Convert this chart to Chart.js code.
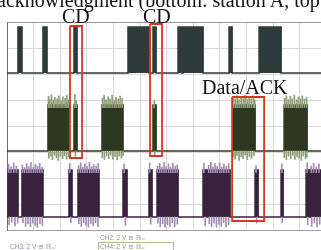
<!DOCTYPE html>
<html><head><meta charset="utf-8">
<script src="https://cdn.jsdelivr.net/npm/chart.js@4.4.1/dist/chart.umd.min.js"></script>
<style>
html,body{margin:0;padding:0;background:#fff;overflow:hidden;width:321px;height:250px}
#wrap{position:absolute;left:0;top:0;width:321px;height:250px}
.lbl{position:absolute;font-family:"Liberation Serif","Times New Roman",serif;color:#111;white-space:nowrap;line-height:1;font-size:20px;z-index:2}
.ch{position:absolute;font-family:"Liberation Sans",Arial,sans-serif;font-size:6.5px;white-space:nowrap;line-height:1;z-index:2}
#ch4box{position:absolute;left:98px;top:242px;width:76px;height:14px;border:1px solid #a9c08c;box-sizing:border-box;z-index:1}
</style></head><body>
<div id="wrap"><canvas id="c" width="321" height="250"></canvas></div>
<div class="lbl" style="left:-3px;top:-10px">acknowledgment (bottom: station A, top</div>
<div class="lbl" style="left:62px;top:6px">CD</div>
<div class="lbl" style="left:143px;top:6px">CD</div>
<div class="lbl" style="left:202px;top:76.5px">Data/ACK</div>
<div class="ch" style="left:100px;top:235px;color:#8a9a84">CH2: 2 V ≅ ℝᵤ</div>
<div id="ch4box"></div>
<div class="ch" style="left:100px;top:244px;color:#8a9a84">CH4: 2 V ≅ ℝᵤ</div>
<div class="ch" style="left:10px;top:244px;color:#8494aa">CH3: 2 V ≅ ℝᵤ</div>
<script>
// time axis in divisions, vertical axis in divisions
const xDivisions = [0,1,2,3,4,5,6,7,8,9,10,11];
const yDivisions = [0,1,2,3,4,5,6,7,8];
const X_MIN = 0, X_MAX = 11.8, Y_MIN = 0, Y_MAX = 8;

// channel 1 (top): [start, end] of each burst
const ch1Pulses = [[0.414,0.564],[1.353,1.504],[2.519,2.632],[4.549,5.338],[5.489,5.602],[6.429,6.560],[6.617,7.368],[8.346,8.459],[9.474,10.301]];
const ch1Base = 6.058, ch1High = 7.827;

// channel 2 (middle)
const ch2Pulses = [[1.541,2.331],[2.519,2.632],[3.571,4.361],[5.489,5.602],[8.496,9.323],[10.414,11.278]];
const ch2Base = 3.058, ch2High = 4.827;
const ch2SpikesUp = [[1.56,5.16],[1.61,5.04],[1.67,5.22],[1.74,5.02],[1.80,5.12],[1.88,5.06],[1.95,5.18],[2.03,5.00],[2.10,5.14],[2.18,5.08],[2.25,5.20],[2.30,5.03],
  [2.55,5.23],[2.60,5.00],
  [3.59,5.10],[3.65,5.20],[3.72,5.03],[3.80,5.15],[3.87,5.06],[3.95,5.21],[4.03,5.02],[4.10,5.12],[4.18,5.05],[4.25,5.17],[4.33,5.08],
  [5.53,5.00],
  [8.51,5.12],[8.58,5.05],[8.65,5.19],[8.72,5.03],[8.80,5.14],[8.88,5.07],[8.95,5.20],[9.03,5.04],[9.10,5.13],[9.18,5.06],[9.26,5.18],[9.31,5.02],
  [10.43,5.08],[10.50,5.19],[10.57,5.04],[10.65,5.16],[10.72,5.06],[10.80,5.21],[10.88,5.03],[10.95,5.14],[11.03,5.07],[11.10,5.18],[11.18,5.05],[11.26,5.12]];
const ch2SpikesDown = [[1.57,2.78],[1.64,2.86],[1.71,2.72],[1.79,2.90],[1.86,2.80],[1.93,2.70],[2.01,2.85],[2.09,2.76],[2.16,2.88],[2.24,2.74],[2.32,2.82],
  [2.57,2.86],
  [3.58,2.80],[3.66,2.72],[3.74,2.87],[3.82,2.76],[3.90,2.90],[3.98,2.74],[4.06,2.84],[4.14,2.71],[4.22,2.86],[4.30,2.78],[4.36,2.88],
  [5.55,2.90],
  [8.50,2.82],[8.57,2.74],[8.64,2.88],[8.72,2.70],[8.80,2.84],[8.87,2.76],[8.95,2.90],[9.03,2.73],[9.11,2.85],[9.19,2.77],[9.28,2.88],
  [10.42,2.80],[10.50,2.72],[10.58,2.86],[10.66,2.75],[10.74,2.89],[10.82,2.73],[10.90,2.84],[10.98,2.78],[11.06,2.70],[11.14,2.86],[11.22,2.76],[11.27,2.83]];

// channel 3 (bottom)
const ch3Pulses = [[0.038,0.414],[0.564,1.353],[2.331,2.444],[2.669,3.459],[4.361,4.511],[5.338,5.451],[5.639,6.429],[7.368,7.519],[7.556,8.383],[9.323,9.436],[10.301,10.376],[11.241,11.353],[11.391,11.95]];
const ch3Base = 0.519, ch3High = 2.327;
const ch3SpikesUp = [[0.06,2.55],[0.15,2.45],[0.25,2.60],[0.35,2.48],
  [0.58,2.52],[0.66,2.42],[0.74,2.58],[0.82,2.46],[0.90,2.61],[0.99,2.44],[1.07,2.55],[1.15,2.47],[1.23,2.59],[1.32,2.43],
  [2.36,2.58],
  [2.69,2.50],[2.77,2.60],[2.85,2.44],[2.93,2.56],[3.01,2.47],[3.10,2.62],[3.18,2.45],[3.26,2.54],[3.35,2.48],[3.43,2.57],
  [4.40,2.55],[5.36,2.60],
  [5.66,2.48],[5.74,2.58],[5.82,2.44],[5.90,2.62],[5.98,2.46],[6.07,2.56],[6.15,2.43],[6.23,2.59],[6.32,2.47],[6.40,2.54],
  [7.40,2.58],
  [7.58,2.52],[7.66,2.62],[7.74,2.45],[7.82,2.57],[7.90,2.47],[7.99,2.60],[8.07,2.44],[8.15,2.55],[8.24,2.48],[8.33,2.58],
  [9.36,2.50],[10.33,2.56],[11.28,2.60],
  [11.43,2.48],[11.52,2.58],[11.62,2.45],[11.72,2.56]];
const ch3SpikesDown = [[0.08,0.22],[0.18,0.32],[0.30,0.18],[0.40,0.28],
  [0.60,0.30],[0.70,0.16],[0.79,0.26],[0.88,0.14],[0.97,0.28],[1.06,0.20],[1.14,0.12],[1.24,0.26],[1.33,0.18],
  [2.40,0.30],
  [2.70,0.26],[2.79,0.16],[2.88,0.30],[2.97,0.20],[3.06,0.13],[3.15,0.27],[3.24,0.18],[3.33,0.29],[3.42,0.15],
  [4.45,0.20],[5.40,0.24],
  [5.67,0.28],[5.76,0.14],[5.85,0.26],[5.94,0.12],[6.03,0.22],[6.12,0.16],[6.21,0.30],[6.30,0.14],[6.40,0.24],
  [7.45,0.18],
  [7.60,0.26],[7.69,0.15],[7.78,0.28],[7.87,0.13],[7.96,0.24],[8.05,0.17],[8.14,0.29],[8.23,0.14],[8.33,0.22],
  [9.38,0.28],[10.34,0.30],[11.30,0.22],
  [11.45,0.16],[11.55,0.28],[11.65,0.14],[11.75,0.24]];

// highlight boxes: [x1, x2, yTop, yBottom]
const boxes = [[2.368,2.820,7.865,2.788],[5.376,5.827,7.942,2.865],[8.459,9.662,5.135,0.365]];

function trace(pulses, base, high) {
  const pts = [{x: X_MIN, y: base}];
  for (const [s, e] of pulses) pts.push({x:s,y:base},{x:s,y:high},{x:e,y:high},{x:e,y:base});
  pts.push({x: 12.5, y: base});
  return pts;
}
function traceDs(pulses, base, high, color) {
  return {type:'line', data: trace(pulses, base, high), borderColor: color, backgroundColor: color,
    borderWidth: 1.6, pointRadius: 0, tension: 0, fill: {value: base}, order: 3};
}
function spikeDs(list, from, color) {
  return {type:'bar', data: list.map(([x, v]) => ({x: x, y: [from, v]})), backgroundColor: color,
    borderWidth: 0, barThickness: 1, grouped: false, order: 2};
}
function boxDs(b) {
  const [x1, x2, yt, yb] = b;
  return {type:'line', data: [{x:x1,y:yt},{x:x2,y:yt},{x:x2,y:yb},{x:x1,y:yb},{x:x1,y:yt}],
    borderColor: '#d7361f', borderWidth: 1.8, pointRadius: 0, fill: false, tension: 0, order: 0};
}

const datasets = [
  ...boxes.map(boxDs),
  spikeDs(ch2SpikesUp, ch2High - 0.1, '#8e9d76'),
  spikeDs(ch2SpikesDown, ch2Base, '#8e9d76'),
  spikeDs(ch3SpikesUp, ch3High - 0.1, '#a18db3'),
  spikeDs(ch3SpikesDown, ch3Base, '#a18db3'),
  traceDs(ch1Pulses, ch1Base, ch1High, '#2f3a3a'),
  traceDs(ch2Pulses, ch2Base, ch2High, '#2e3821'),
  traceDs(ch3Pulses, ch3Base, ch3High, '#38223e')
];

new Chart(document.getElementById('c'), {
  type: 'line',
  data: { datasets },
  options: {
    responsive: false, animation: false, devicePixelRatio: 1,
    layout: { padding: { left: 7, top: 22.5, right: 0, bottom: 19.5 } },
    plugins: { legend: { display: false }, tooltip: { enabled: false } },
    scales: {
      x: { type: 'linear', min: X_MIN, max: X_MAX, offset: false,
        afterBuildTicks: s => { s.ticks = xDivisions.map(v => ({value: v})); },
        afterFit: s => { s.height = 0; },
        ticks: { display: false }, grid: { color: '#dadada', lineWidth: 1, drawTicks: false, offset: false },
        border: { display: true, color: '#a0a0a0', width: 1 } },
      y: { type: 'linear', min: Y_MIN, max: Y_MAX,
        afterBuildTicks: s => { s.ticks = yDivisions.map(v => ({value: v})); },
        afterFit: s => { s.width = 0; },
        ticks: { display: false },
        grid: { color: c => (c.tick && c.tick.value === Y_MAX) ? '#9a9a9a' : '#dadada', lineWidth: 1, drawTicks: false },
        border: { display: true, color: '#6e6e6e', width: 1 } }
    }
  }
});
</script>
</body></html>
